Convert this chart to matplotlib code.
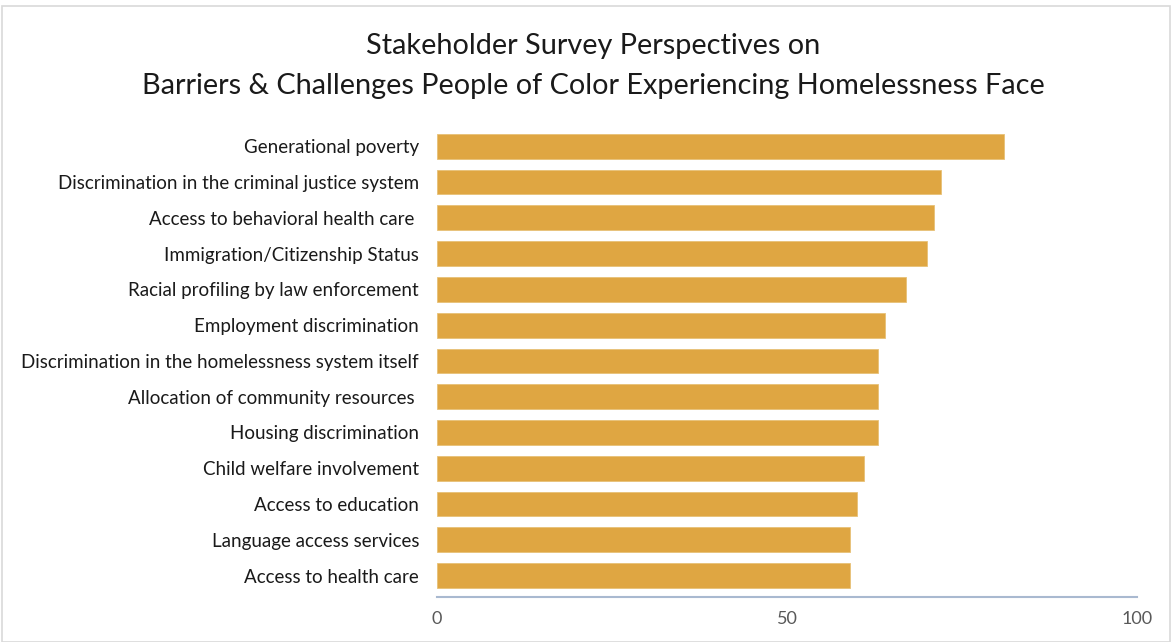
import matplotlib
matplotlib.use('Agg')
import matplotlib.pyplot as plt
from matplotlib.patches import Rectangle

plt.rcParams['font.family'] = ['Lato', 'DejaVu Sans']

categories = [
    'Generational poverty',
    'Discrimination in the criminal justice system',
    'Access to behavioral health care ',
    'Immigration/Citizenship Status',
    'Racial profiling by law enforcement',
    'Employment discrimination',
    'Discrimination in the homelessness system itself',
    'Allocation of community resources ',
    'Housing discrimination',
    'Child welfare involvement',
    'Access to education',
    'Language access services',
    'Access to health care',
]
values = [81, 72, 71, 70, 67, 64, 63, 63, 63, 61, 60, 59, 59]
x_ticks = [0, 50, 100]

fig = plt.figure(figsize=(11.75, 6.42), dpi=100)
ax = fig.add_axes([0.372, 0.07, 0.596, 0.73])

ypos = list(range(len(categories)))
ax.barh(ypos, values, height=0.69, color='#DFA642', edgecolor='#E8C177', linewidth=0.6)
ax.set_yticks(ypos)
ax.set_yticklabels(categories, fontsize=13.5, color='#1a1a1a')
ax.invert_yaxis()
ax.set_ylim(len(categories) - 0.5 + 0.1, -0.5)
ax.set_xlim(0, 100)
ax.set_xticks(x_ticks)
ax.set_xticklabels([str(t) for t in x_ticks], fontsize=13, color='#595959')
ax.tick_params(axis='both', length=0)
ax.tick_params(axis='x', pad=10)
ax.tick_params(axis='y', pad=13)

for side in ['top', 'right', 'left']:
    ax.spines[side].set_visible(False)
ax.spines['bottom'].set_color('#A9B9D0')
ax.spines['bottom'].set_linewidth(1.5)

fig.text(0.505, 0.928, 'Stakeholder Survey Perspectives on', ha='center', va='center',
         fontsize=20.8, color='#1a1a1a')
fig.text(0.505, 0.866, 'Barriers & Challenges People of Color Experiencing Homelessness Face',
         ha='center', va='center', fontsize=20.8, color='#1a1a1a')

fig.patches.append(Rectangle((0.002, 0.0), 0.994, 0.99, transform=fig.transFigure,
                             fill=False, edgecolor='#D9D9D9', linewidth=1.2))

fig.savefig('out.png', dpi=100, facecolor='white')
